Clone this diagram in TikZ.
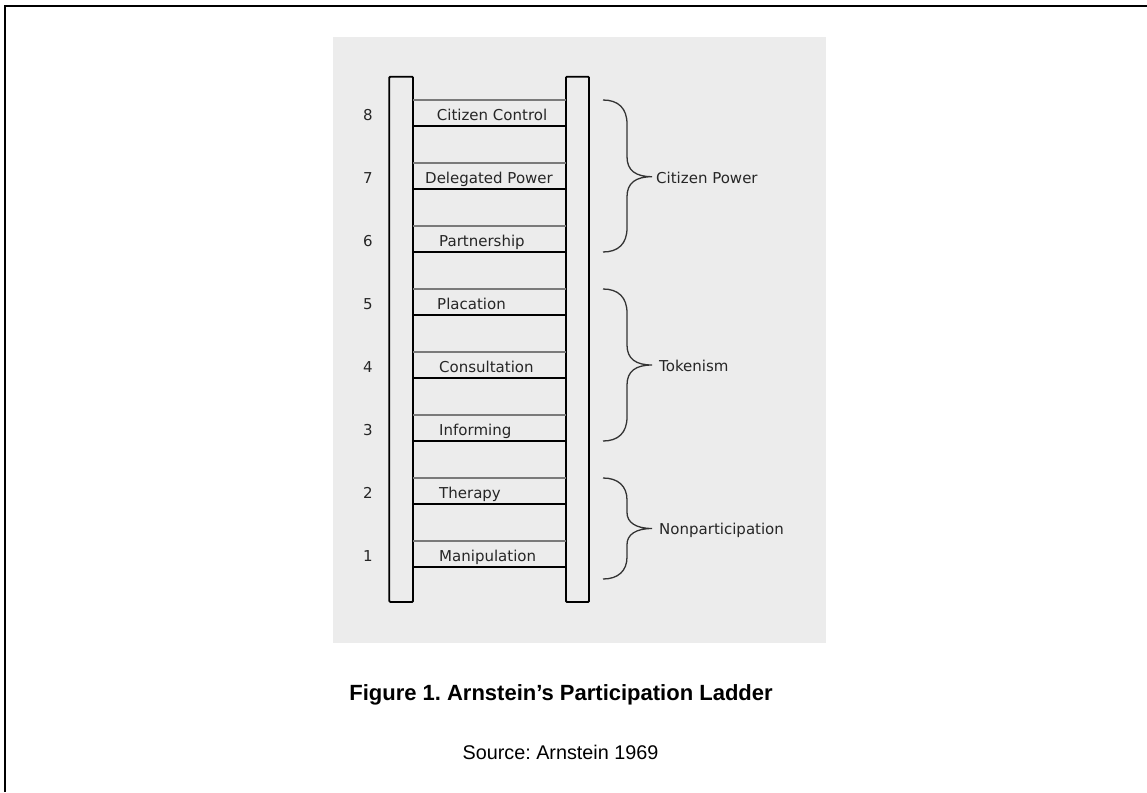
\documentclass[tikz,border=0pt]{standalone}
\usepackage{fontspec}
\setmainfont{DejaVu Sans}
\newfontfamily\capfont{Liberation Sans}
\frenchspacing
\definecolor{bgc}{HTML}{ECECEC}
\definecolor{rungc}{HTML}{7A7A7A}
\definecolor{bracec}{HTML}{333333}
\newcommand\grpbrace[5]{%
  \draw[bracestyle] (603,#1) .. controls (618,#1) and (627,{#1+8}) .. (627,{#1+#4})
    -- (627,{#2-#5}) .. controls (627,{#2-6}) and (636,#2) .. (652,#2)
    .. controls (636,#2) and (627,{#2+6}) .. (627,{#2+#5})
    -- (627,{#3-#4}) .. controls (627,{#3-8}) and (618,#3) .. (603,#3);}
\begin{document}
\begin{tikzpicture}[x=1pt,y=-1pt,
  railstyle/.style={draw=black,line width=1.8pt,fill=bgc,rounded corners=1pt},
  rungtop/.style={draw=rungc,line width=1.7pt},
  rungbot/.style={draw=black,line width=2pt},
  bracestyle/.style={draw=bracec,line width=1.3pt},
  lbl/.style={inner sep=0pt,anchor=base west,font=\fontsize{15}{18}\selectfont,text=black!85},
  num/.style={inner sep=0pt,anchor=base,font=\fontsize{15}{18}\selectfont,text=black!85},
  grp/.style={inner sep=0pt,anchor=base west,font=\fontsize{15}{18}\selectfont,text=black!85}]
\useasboundingbox (0,0) rectangle (1147,792);
% frame
\draw[line width=2pt] (5.3,792) -- (5.3,6) -- (1147,6);
% background
\fill[bgc] (333,37.5) rectangle (826,642.5);
% rails
\draw[railstyle] (389.3,76.7) rectangle (413,602);
\draw[railstyle] (566,76.7) rectangle (589,602);
% rungs
\foreach \k in {0,...,7}{
  \pgfmathsetmacro\yy{100.3+63*\k}
  \draw[rungtop] (413,\yy) -- (566,\yy);
  \draw[rungbot] (413,\yy+25.5) -- (566,\yy+25.5);
}
% rung labels
\node[lbl] (l8) at (436.7,120.7) {Citizen Control};
\node[lbl] (l7) at (425,183.7) {Delegated Power};
\node[lbl] (l6) at (439,246.7) {Partnership};
\node[lbl] (l5) at (437,309.7) {Placation};
\node[lbl] (l4) at (439,372.7) {Consultation};
\node[lbl] (l3) at (439,435.7) {Informing};
\node[lbl] (l2) at (439,498.7) {Therapy};
\node[lbl] (l1) at (439,561.7) {Manipulation};
% numbers
\node[num] (n8) at (368,120.3) {8};
\node[num] (n7) at (368,183.3) {7};
\node[num] (n6) at (368,246.3) {6};
\node[num] (n5) at (368,309.3) {5};
\node[num] (n4) at (368,372.3) {4};
\node[num] (n3) at (368,435.3) {3};
\node[num] (n2) at (368,498.3) {2};
\node[num] (n1) at (368,561.3) {1};
% braces
\grpbrace{100}{176.7}{252}{24}{20}
\grpbrace{289}{365}{441}{24}{20}
\grpbrace{478}{528.5}{579}{22}{16}
\node[grp] (g1) at (656,183.5) {Citizen Power};
\node[grp] (g2) at (659,371.5) {Tokenism};
\node[grp] (g3) at (659,534.5) {Nonparticipation};
% caption
\node[inner sep=0pt,anchor=base,font=\capfont\bfseries\fontsize{22}{26}\selectfont] (cap) at (561,700.5) {Figure 1. Arnstein’s Participation Ladder};
\node[inner sep=0pt,anchor=base,font=\capfont\fontsize{19.8}{24}\selectfont] (src) at (560.5,759) {Source: Arnstein 1969};
\end{tikzpicture}
\end{document}
